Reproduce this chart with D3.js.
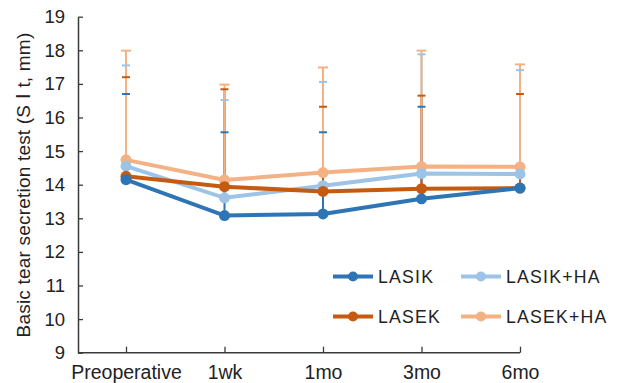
<!DOCTYPE html>
<html>
<head>
<meta charset="utf-8">
<script src="https://cdn.jsdelivr.net/npm/d3@7"></script>
<style>
  body { margin: 0; background: #fff; }
  svg { display: block; font-family: "Liberation Sans", Arial, sans-serif; }
</style>
</head>
<body>
<div id="chart"></div>
<script>
// time points
const categories = ["Preoperative", "1wk", "1mo", "3mo", "6mo"];
const yTicks = [9, 10, 11, 12, 13, 14, 15, 16, 17, 18, 19];

// means per group
const lasik = [14.15, 13.08, 13.13, 13.58, 13.9];
const lasikHA = [14.55, 13.61, 13.97, 14.33, 14.32];
const lasek = [14.25, 13.94, 13.8, 13.88, 13.9];
const lasekHA = [14.74, 14.14, 14.36, 14.54, 14.53];

// standard deviations (only upper bars drawn)
const lasikSD = [2.55, 2.48, 2.43, 2.74, 2.8];
const lasikHASD = [3.0, 2.91, 3.09, 3.55, 3.09];
const lasekSD = [2.95, 2.9, 2.52, 2.77, 2.8];
const lasekHASD = [3.25, 2.84, 3.13, 3.45, 3.05];

const series = [
  {name: "LASIK", values: lasik, sd: lasikSD, color: "#2e75b6"},
  {name: "LASIK+HA", values: lasikHA, sd: lasikHASD, color: "#9dc3e6"},
  {name: "LASEK", values: lasek, sd: lasekSD, color: "#c55a11"},
  {name: "LASEK+HA", values: lasekHA, sd: lasekHASD, color: "#f4b183"}
];

const width = 623, height = 383;
const axisColor = "#3a3a3a";
const font = "Liberation Sans, Arial, sans-serif";

const svg = d3.select("#chart").append("svg")
  .attr("width", width)
  .attr("height", height);

const x = d3.scalePoint().domain(categories).range([126, 520]);
const y = d3.scaleLinear().domain([9, 19]).range([352.7, 16.7]);

// y axis, ticks pointing inward
const yAxis = svg.append("g")
  .attr("transform", "translate(78,0)")
  .call(d3.axisLeft(y).tickValues(yTicks).tickSizeInner(-5).tickSizeOuter(0).tickPadding(13));
yAxis.select(".domain").attr("stroke", axisColor).attr("stroke-width", 1.5);
yAxis.selectAll(".tick line").attr("stroke", axisColor).attr("stroke-width", 1.3);
yAxis.selectAll(".tick text").attr("font-size", 18.5).attr("fill", "#222").attr("font-family", font);

// x axis
const xAxis = svg.append("g")
  .attr("transform", "translate(0,352.7)")
  .call(d3.axisBottom(x).tickSizeInner(-6).tickSizeOuter(0).tickPadding(12));
xAxis.select(".domain").remove();
xAxis.append("line")
  .attr("x1", 78).attr("x2", x(categories[categories.length - 1]))
  .attr("stroke", axisColor).attr("stroke-width", 1.5);
xAxis.selectAll(".tick line").attr("stroke", axisColor).attr("stroke-width", 1.3);
xAxis.selectAll(".tick text").attr("font-size", 19.5).attr("fill", "#222").attr("font-family", font);

// y title
svg.append("text")
  .attr("transform", "translate(29.5,185) rotate(-90)")
  .attr("text-anchor", "middle")
  .attr("font-size", 19)
  .attr("letter-spacing", 0.2)
  .attr("fill", "#222")
  .text("Basic tear secretion test (S \u2160 t, mm)");

// error bars: vertical lines first, then caps
const errG = svg.append("g");
series.forEach(s => {
  errG.selectAll(null)
    .data(s.values.map((v, i) => ({v, sd: s.sd[i], c: categories[i]})))
    .enter().append("line")
    .attr("x1", d => x(d.c)).attr("x2", d => x(d.c))
    .attr("y1", d => y(d.v)).attr("y2", d => y(d.v + d.sd))
    .attr("stroke", s.color).attr("stroke-width", 2);
});
series.forEach((s, si) => {
  const half = si === 3 ? 5 : 4;
  errG.selectAll(null)
    .data(s.values.map((v, i) => ({v, sd: s.sd[i], c: categories[i]})))
    .enter().append("line")
    .attr("x1", d => x(d.c) - half).attr("x2", d => x(d.c) + half)
    .attr("y1", d => y(d.v + d.sd)).attr("y2", d => y(d.v + d.sd))
    .attr("stroke", s.color).attr("stroke-width", 2);
});

// lines and markers
const line = d3.line()
  .x((d, i) => x(categories[i]))
  .y(d => y(d));

const order = [3, 1, 2, 0];
order.forEach(k => {
  const s = series[k];
  const g = svg.append("g");
  g.append("path")
    .datum(s.values)
    .attr("d", line)
    .attr("fill", "none")
    .attr("stroke", s.color)
    .attr("stroke-width", 4);
  g.selectAll("circle")
    .data(s.values)
    .enter().append("circle")
    .attr("cx", (d, i) => x(categories[i]))
    .attr("cy", d => y(d))
    .attr("r", 5.5)
    .attr("fill", s.color);
});

// legend
const legendPos = [
  {x: 333, y: 276.5},
  {x: 461, y: 276.5},
  {x: 333, y: 316.5},
  {x: 461, y: 316.5}
];
series.forEach((s, i) => {
  const p = legendPos[i];
  const g = svg.append("g").attr("transform", `translate(${p.x},${p.y})`);
  g.append("line").attr("x1", 0).attr("x2", 40)
    .attr("stroke", s.color).attr("stroke-width", 4);
  g.append("circle").attr("cx", 20).attr("r", 5).attr("fill", s.color);
  g.append("text")
    .attr("x", 45).attr("y", 6.5)
    .attr("font-size", 17.7)
    .attr("letter-spacing", 1.2)
    .attr("fill", "#222")
    .text(s.name);
});
</script>
</body>
</html>
